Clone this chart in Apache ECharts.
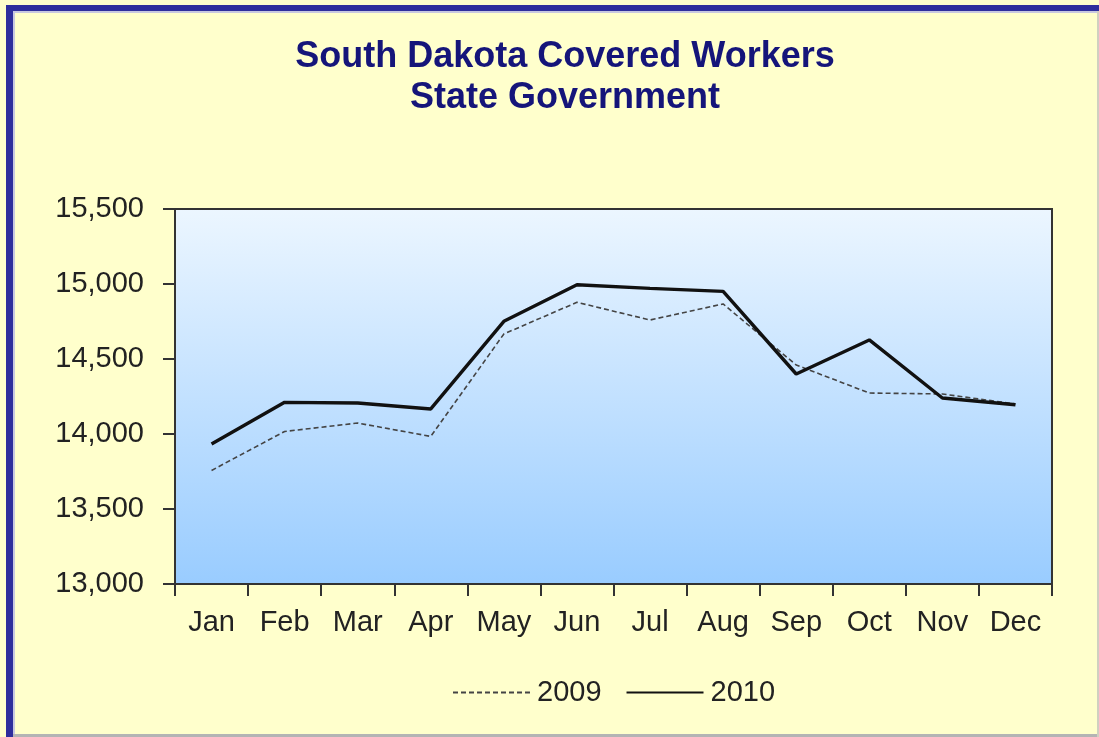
<!DOCTYPE html>
<html>
<head>
<meta charset="utf-8">
<script src="https://cdn.jsdelivr.net/npm/echarts@6/dist/echarts.min.js"></script>
<style>
html,body{margin:0;padding:0;background:#ffffcc;}
#chart{width:1099px;height:737px;}
</style>
</head>
<body>
<div id="chart"></div>
<script>
var titleLines = ['South Dakota Covered Workers', 'State Government'];
var months = ['Jan','Feb','Mar','Apr','May','Jun','Jul','Aug','Sep','Oct','Nov','Dec'];
var seriesNames = ['2009', '2010'];
var values2009 = [13757, 14017, 14073, 13984, 14667, 14878, 14760, 14867, 14460, 14273, 14267, 14200];
var values2010 = [13933, 14211, 14207, 14167, 14751, 14995, 14971, 14951, 14400, 14627, 14240, 14195];
var yMin = 13000, yMax = 15500, yStep = 500;

var chart = echarts.init(document.getElementById('chart'));
var font = 'Arial, "Liberation Sans", sans-serif';
chart.setOption({
  backgroundColor: '#ffffcc',
  animation: false,
  graphic: [
    {type:'rect', shape:{x:6,y:5,width:7,height:732}, style:{fill:'#2e2e9c'}, z:10},
    {type:'rect', shape:{x:6,y:5,width:1093,height:6}, style:{fill:'#2e2e9c'}, z:10},
    {type:'rect', shape:{x:13,y:11,width:1086,height:2}, style:{fill:'#c8c8e0'}, z:10},
    {type:'rect', shape:{x:13,y:11,width:2,height:726}, style:{fill:'#c8c8e0'}, z:10},
    {type:'rect', shape:{x:13,y:734,width:1086,height:3}, style:{fill:'#b4b4b4'}, z:10},
    {type:'rect', shape:{x:1097,y:11,width:2,height:726}, style:{fill:'#d0d0c0'}, z:10}
  ],
  title: {
    text: titleLines.join('\n'),
    left: 560, textAlign: 'center', top: 32,
    textStyle: {fontFamily: font, fontSize: 36, fontWeight: 'bold', color: '#15157a', lineHeight: 41}
  },
  legend: {
    left: 447, top: 673,
    itemWidth: 77, itemHeight: 14, itemGap: 24,
    itemStyle: {opacity: 0},
    lineStyle: {inactiveWidth: 3},
    textStyle: {fontFamily: font, fontSize: 29, color: '#222', padding:[0,0,0,2]},
    data: seriesNames
  },
  grid: {
    left: 175, right: 47, top: 209, bottom: 153,
    show: true, borderColor: '#333', borderWidth: 2,
    backgroundColor: {type:'linear', x:0, y:0, x2:0, y2:1,
      colorStops:[{offset:0,color:'#ecf6ff'},{offset:1,color:'#99ccff'}]}
  },
  xAxis: {
    type: 'category', data: months, boundaryGap: true,
    axisLine: {lineStyle: {color: '#333', width: 2}},
    axisTick: {show: true, length: 12, lineStyle: {color: '#333', width: 2}},
    axisLabel: {fontFamily: font, fontSize: 29, color: '#222', margin: 24},
    splitLine: {show: false}
  },
  yAxis: {
    type: 'value', min: yMin, max: yMax, interval: yStep,
    axisLine: {show: true, lineStyle: {color: '#333', width: 2}},
    axisTick: {show: true, length: 12, lineStyle: {color: '#333', width: 2}},
    axisLabel: {fontFamily: font, fontSize: 29, color: '#222', margin: 31},
    splitLine: {show: false}
  },
  series: [
    {name: seriesNames[0], type: 'line', data: values2009, symbol: 'none',
     lineStyle: {color: '#444', width: 1.6, type: [5, 3]}, itemStyle: {color: '#444'}},
    {name: seriesNames[1], type: 'line', data: values2010, symbol: 'none',
     lineStyle: {color: '#111', width: 3.4}, itemStyle: {color: '#111'}}
  ]
});
</script>
</body>
</html>
